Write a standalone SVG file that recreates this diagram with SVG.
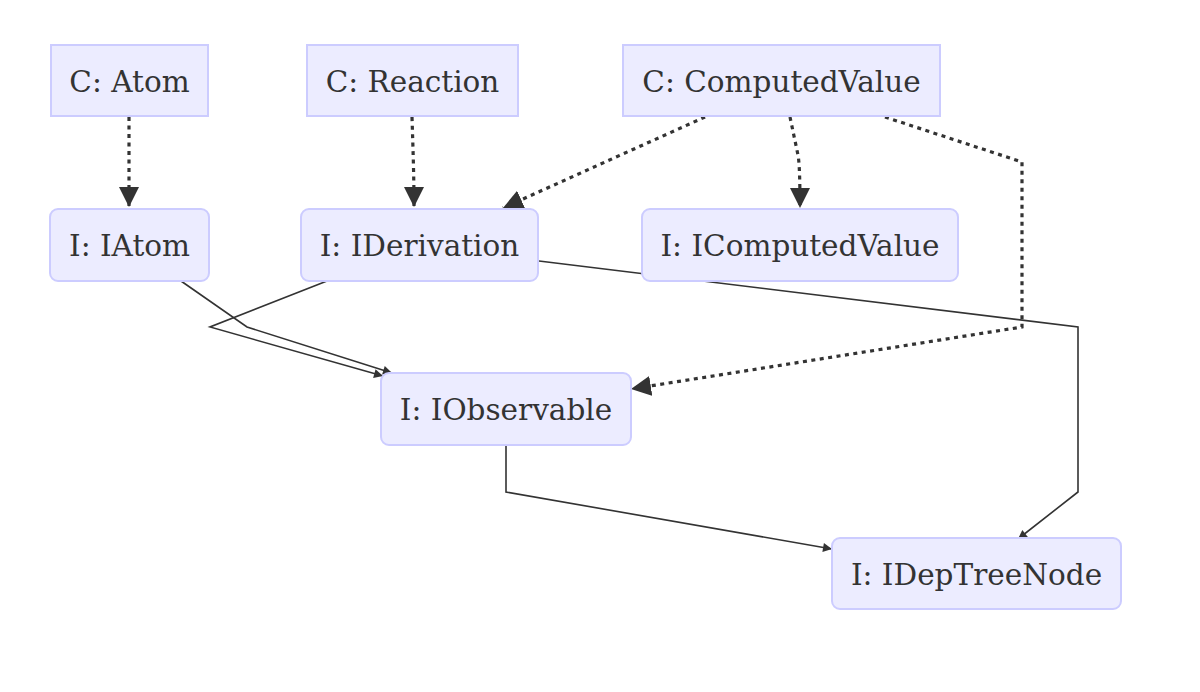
<svg xmlns="http://www.w3.org/2000/svg" width="1200" height="692" viewBox="0 0 1200 692">
<style>
.node rect{fill:#ECECFF;stroke:#CCCCFF;stroke-width:2}
.node text{font-family:"DejaVu Serif",serif;font-size:29.5px;fill:#333333;text-anchor:middle}
.dot{fill:none;stroke:#333333;stroke-width:3.2;stroke-dasharray:4 4.5}
.sol{fill:none;stroke:#333333;stroke-width:1.6}
</style>
<defs>
<marker id="big" viewBox="0 0 10 10" refX="10" refY="5" markerUnits="userSpaceOnUse" markerWidth="20" markerHeight="21" orient="auto"><path d="M0,0 L10,5 L0,10 z" fill="#333333"/></marker>
<marker id="small" viewBox="0 0 10 10" refX="10" refY="5" markerUnits="userSpaceOnUse" markerWidth="12" markerHeight="9" orient="auto"><path d="M0,0 L10,5 L0,10 z" fill="#333333"/></marker>
</defs>
<rect width="1200" height="692" fill="#ffffff"/>
<g id="connectors">
<path class="dot" d="M129,117 L129,207" marker-end="url(#big)"/>
<path class="dot" d="M412,117 C413,150 414,175 414,207" marker-end="url(#big)"/>
<path class="dot" d="M705,117 L503,208" marker-end="url(#big)"/>
<path class="dot" d="M790,117 L798,155 Q800,165 800,208" marker-end="url(#big)"/>
<path class="dot" d="M885,117 L1022,162 L1022,327 L631,389" marker-end="url(#big)"/>
<path class="sol" d="M181,281 L247,327 L392,373" marker-end="url(#small)"/>
<path class="sol" d="M327,281 L210,327 L383,376" marker-end="url(#small)"/>
<path class="sol" d="M539,261 L1078,327 L1078,492 L1018,539" marker-end="url(#small)"/>
<path class="sol" d="M506,445 L506,492 L832,549" marker-end="url(#small)"/>
</g>
<g id="n-catom" class="node"><rect x="51" y="45" width="157" height="71"/><text x="129.5" y="91.5">C: Atom</text></g>
<g id="n-creaction" class="node"><rect x="307" y="45" width="211" height="71"/><text x="412.5" y="91.5">C: Reaction</text></g>
<g id="n-ccomputed" class="node"><rect x="623" y="45" width="317" height="71"/><text x="781.5" y="91.5">C: ComputedValue</text></g>
<g id="n-iatom" class="node"><rect x="50" y="209" width="159" height="72" rx="8"/><text x="129.5" y="256">I: IAtom</text></g>
<g id="n-iderivation" class="node"><rect x="301" y="209" width="237" height="72" rx="8"/><text x="419.5" y="256">I: IDerivation</text></g>
<g id="n-icomputed" class="node"><rect x="642" y="209" width="316" height="72" rx="8"/><text x="800" y="256">I: IComputedValue</text></g>
<g id="n-iobservable" class="node"><rect x="381" y="373" width="250" height="72" rx="8"/><text x="506" y="420">I: IObservable</text></g>
<g id="n-ideptree" class="node"><rect x="832" y="538" width="289" height="71" rx="8"/><text x="976.5" y="584.5">I: IDepTreeNode</text></g>
</svg>
